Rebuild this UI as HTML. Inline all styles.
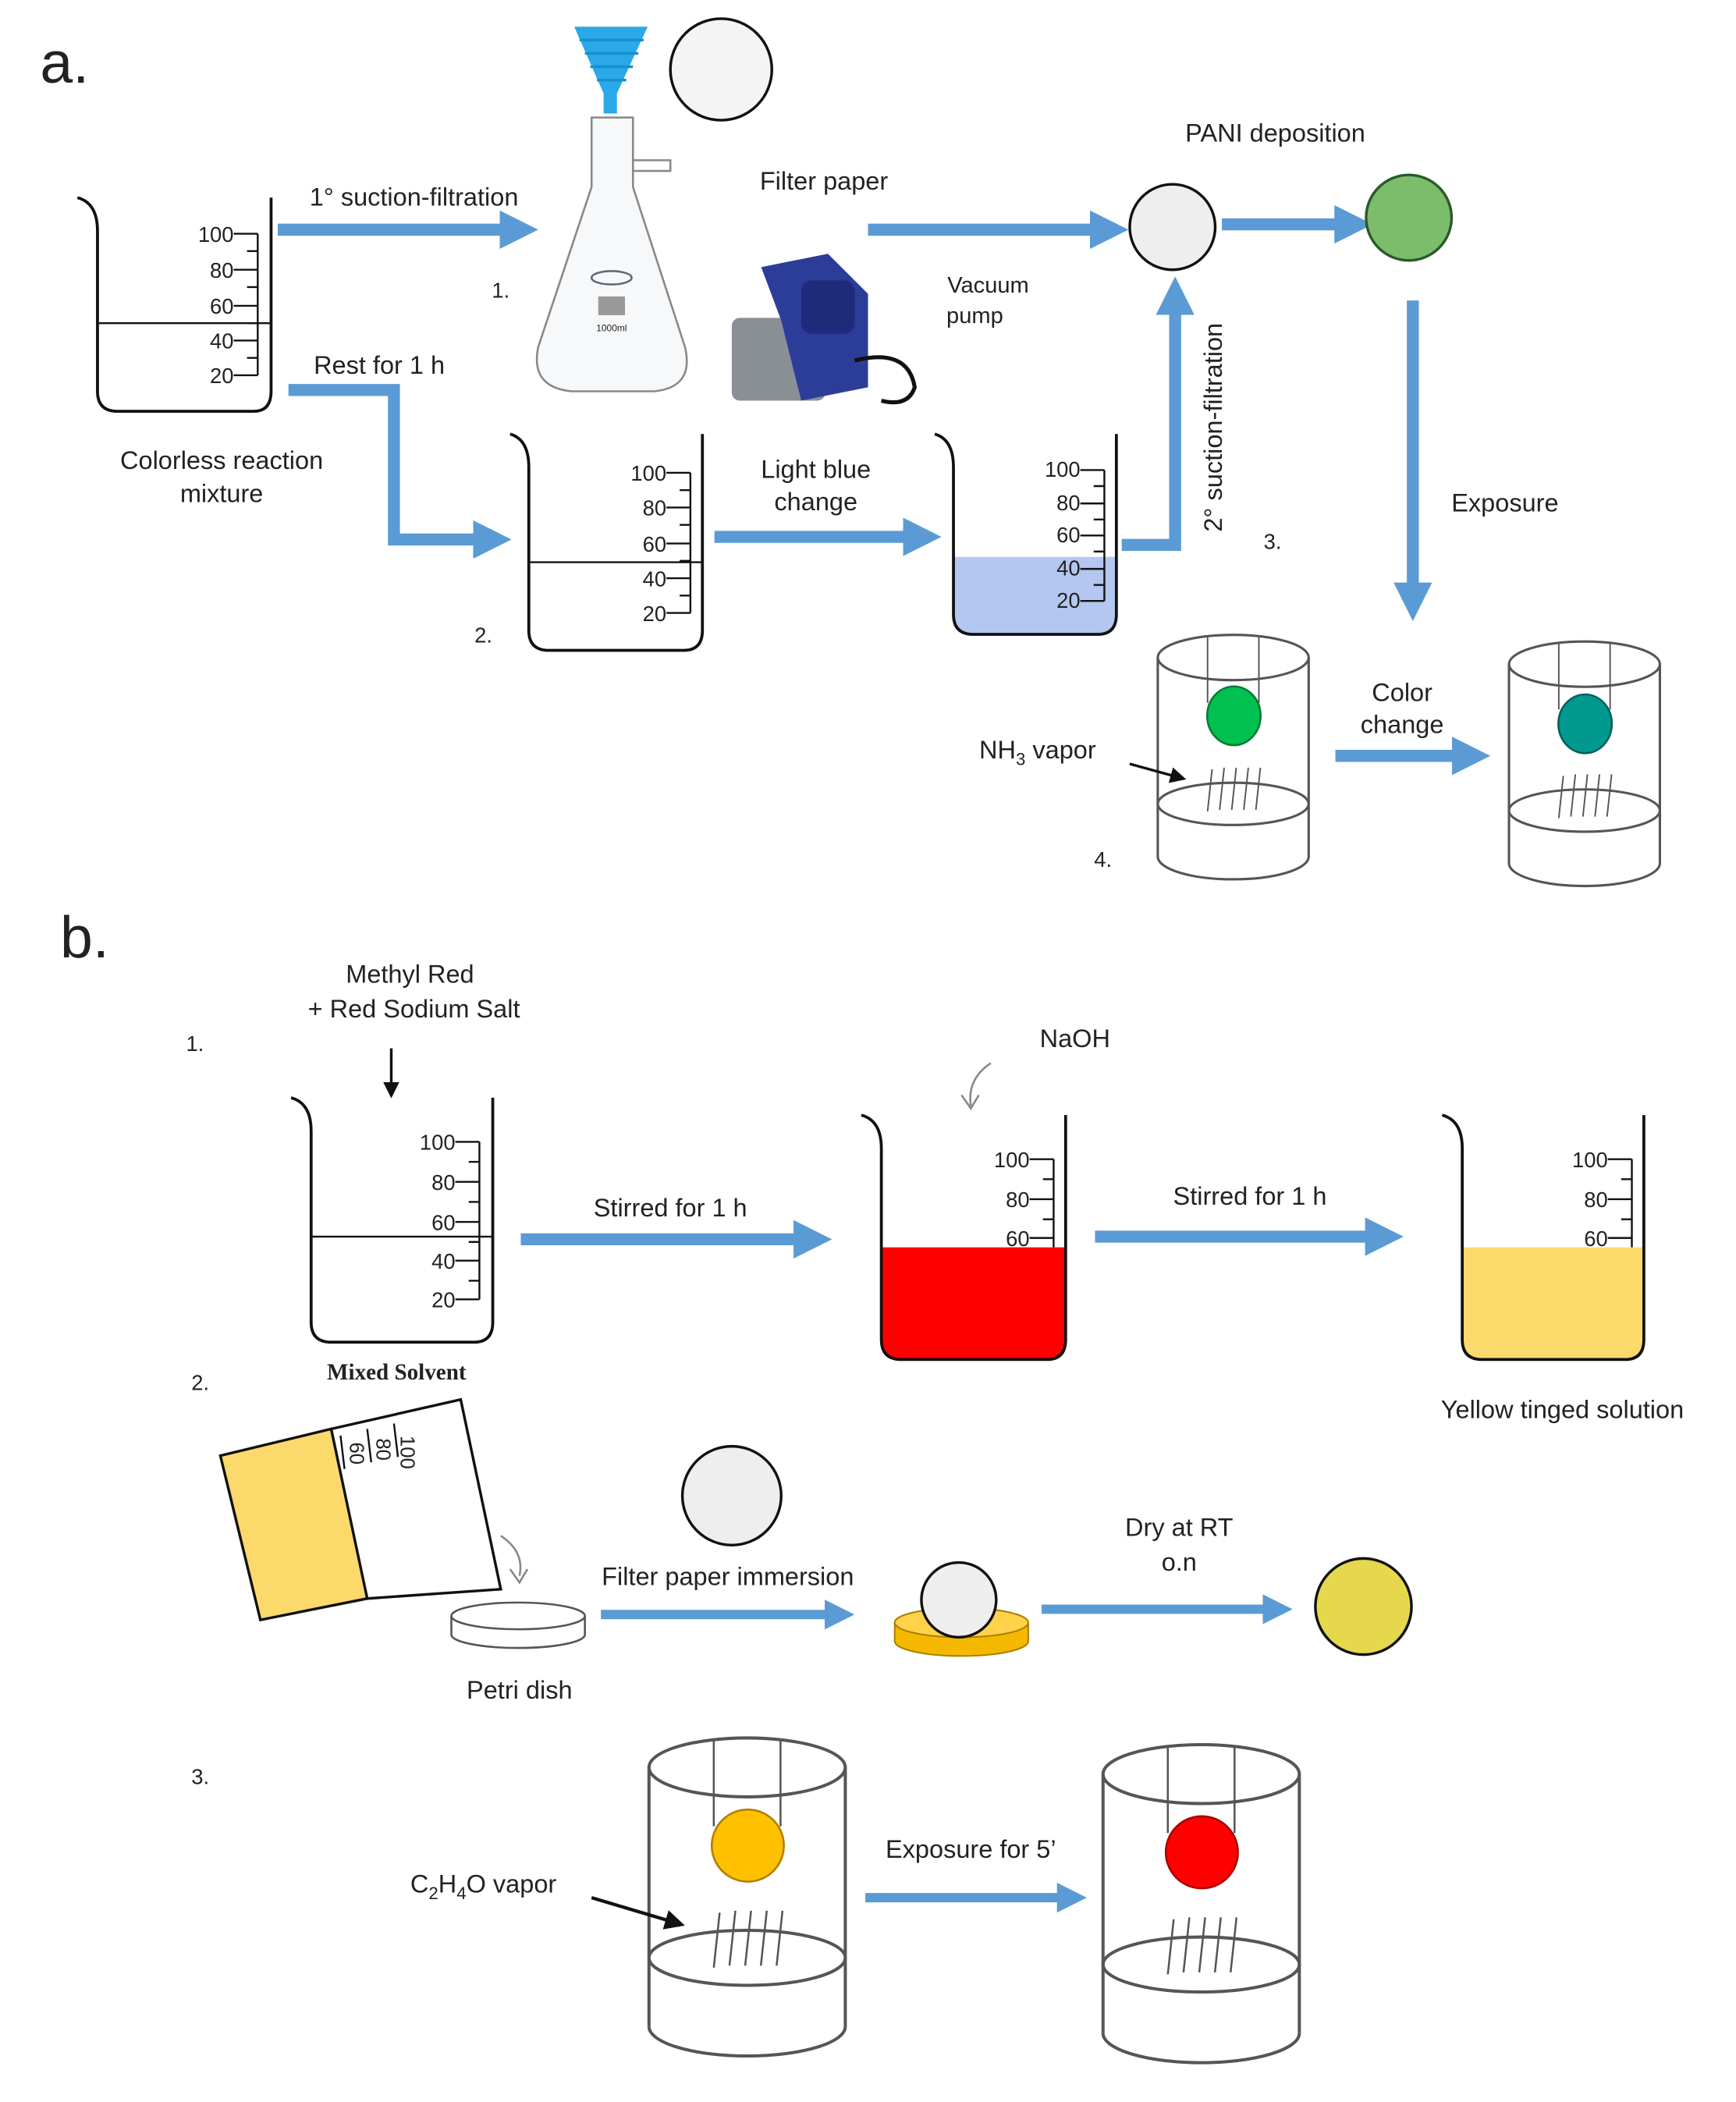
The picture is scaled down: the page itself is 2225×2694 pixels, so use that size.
<!DOCTYPE html>
<html><head><meta charset="utf-8"><style>html,body{margin:0;padding:0;background:#fff}svg{display:block}text{font-family:"Liberation Sans",sans-serif;fill:#222}</style></head><body>
<svg width="2225" height="2694" viewBox="0 0 1300 1574" preserveAspectRatio="none" xmlns="http://www.w3.org/2000/svg">
<defs>
<marker id="ah" viewBox="0 0 10 10" refX="2" refY="5" markerWidth="3.2" markerHeight="3.2" orient="auto" markerUnits="strokeWidth"><path d="M0,0 L10,5 L0,10 z" fill="#5b9bd5"/></marker>
<marker id="bk" viewBox="0 0 10 10" refX="8" refY="5" markerWidth="6" markerHeight="6" orient="auto" markerUnits="strokeWidth"><path d="M0,0 L10,5 L0,10 z" fill="#111"/></marker>
<g id="jar" fill="none" stroke="#555" stroke-width="1.6">
<rect x="0" y="18" width="100" height="132" fill="#fff" stroke="none"/>
<ellipse cx="50" cy="18" rx="50" ry="15"/>
<line x1="0" y1="18" x2="0" y2="150"/><line x1="100" y1="18" x2="100" y2="150"/>
<path d="M0,150 A50,15 0 0 0 100,150"/>
<ellipse cx="50" cy="115" rx="50" ry="14"/>
<line x1="33" y1="4" x2="33" y2="48" stroke-width="1"/><line x1="67" y1="4" x2="67" y2="48" stroke-width="1"/>
<path d="M36,92 l-3,28 M44,91 l-3,28 M52,91 l-3,28 M60,91 l-3,28 M68,91 l-3,28" stroke-width="1"/>
</g>
</defs>
<g stroke="#5b9bd5" stroke-width="9" fill="none">
<line x1="208" y1="172" x2="380" y2="172" marker-end="url(#ah)"/>
<line x1="650" y1="172" x2="822" y2="172" marker-end="url(#ah)"/>
<line x1="915" y1="168" x2="1005" y2="168" marker-end="url(#ah)"/>
<polyline points="216,292 295,292 295,404 360,404" marker-end="url(#ah)"/>
<line x1="535" y1="402" x2="682" y2="402" marker-end="url(#ah)"/>
<polyline points="840,408 880,408 880,230" marker-end="url(#ah)"/>
<line x1="1058" y1="225" x2="1058" y2="442" marker-end="url(#ah)"/>
<line x1="1000" y1="566" x2="1093" y2="566" marker-end="url(#ah)"/>
<line x1="390" y1="928" x2="600" y2="928" marker-end="url(#ah)"/>
<line x1="820" y1="926" x2="1028" y2="926" marker-end="url(#ah)"/>
<line x1="450" y1="1209" x2="622" y2="1209" stroke-width="7" marker-end="url(#ah)"/>
<line x1="780" y1="1205" x2="950" y2="1205" stroke-width="7" marker-end="url(#ah)"/>
<line x1="648" y1="1421" x2="796" y2="1421" stroke-width="7" marker-end="url(#ah)"/>
</g>
<text x="30" y="62" font-size="44">a.</text>
<text x="45" y="717" font-size="44">b.</text>
<!-- beakers -->
<g fill="none" stroke="#111" stroke-width="2.2">
<path d="M58,148 q15,4 15,25 L73,293 q0,15 15,15 L190,308 q13,0 13,-15 L203,148"/>
<line x1="73" y1="242" x2="203" y2="242" stroke-width="1.4"/>
<path d="M382,325 q14,4 14,25 L396,472 q0,15 15,15 L512,487 q14,0 14,-15 L526,325"/>
<line x1="396" y1="421" x2="526" y2="421" stroke-width="1.4"/>
<path d="M218,822 q15,4 15,25 L233,990 q0,15 15,15 L355,1005 q14,0 14,-15 L369,822"/>
<line x1="233" y1="926" x2="369" y2="926" stroke-width="1.4"/>
</g>
<path d="M714,417 L836,417 L836,460 q0,15 -14,15 L729,475 q-15,0 -15,-15 z" fill="#b4c7f0"/>
<path d="M700,325 q14,4 14,25 L714,460 q0,15 15,15 L822,475 q14,0 14,-15 L836,325" fill="none" stroke="#111" stroke-width="2.2"/>
<path d="M660,934 L798,934 L798,1003 q0,15 -14,15 L675,1018 q-15,0 -15,-15 z" fill="#ff0000"/>
<path d="M645,835 q15,4 15,25 L660,1003 q0,15 15,15 L784,1018 q14,0 14,-15 L798,835" fill="none" stroke="#111" stroke-width="2.2"/>
<path d="M1095,934 L1231,934 L1231,1003 q0,15 -14,15 L1110,1018 q-15,0 -15,-15 z" fill="#fcd96b"/>
<path d="M1080,835 q15,4 15,25 L1095,1003 q0,15 15,15 L1217,1018 q14,0 14,-15 L1231,835" fill="none" stroke="#111" stroke-width="2.2"/>
<!-- gradations -->
<g stroke="#111" stroke-width="1.4" fill="none">
<path d="M193,175 v106 M193,175 h-18 M193,202 h-18 M193,229 h-18 M193,255 h-18 M193,281 h-18 M193,188 h-8 M193,215 h-8 M193,242 h-8 M193,268 h-8"/>
<path d="M517,354 v105 M517,354 h-18 M517,380 h-18 M517,407 h-18 M517,433 h-18 M517,459 h-18 M517,367 h-8 M517,393 h-8 M517,420 h-8 M517,446 h-8"/>
<path d="M827,352 v98 M827,352 h-18 M827,377 h-18 M827,401 h-18 M827,426 h-18 M827,450 h-18 M827,364 h-8 M827,389 h-8 M827,413 h-8 M827,438 h-8"/>
<path d="M359,855 v118 M359,855 h-18 M359,885 h-18 M359,915 h-18 M359,944 h-18 M359,973 h-18 M359,870 h-8 M359,900 h-8 M359,930 h-8 M359,959 h-8"/>
<path d="M789,868 v66 M789,868 h-18 M789,898 h-18 M789,927 h-18 M789,883 h-8 M789,913 h-8"/>
<path d="M1222,868 v66 M1222,868 h-18 M1222,898 h-18 M1222,927 h-18 M1222,883 h-8 M1222,913 h-8"/>
</g>
<g font-size="16" text-anchor="end">
<text x="175" y="181">100</text><text x="175" y="208">80</text><text x="175" y="235">60</text><text x="175" y="261">40</text><text x="175" y="287">20</text>
<text x="499" y="360">100</text><text x="499" y="386">80</text><text x="499" y="413">60</text><text x="499" y="439">40</text><text x="499" y="465">20</text>
<text x="809" y="357">100</text><text x="809" y="382">80</text><text x="809" y="406">60</text><text x="809" y="431">40</text><text x="809" y="455">20</text>
<text x="341" y="861">100</text><text x="341" y="891">80</text><text x="341" y="921">60</text><text x="341" y="950">40</text><text x="341" y="979">20</text>
<text x="771" y="874">100</text><text x="771" y="904">80</text><text x="771" y="933">60</text>
<text x="1204" y="874">100</text><text x="1204" y="904">80</text><text x="1204" y="933">60</text>
</g>
<!-- funnel & flask -->
<path d="M430,20 L485,20 L462,70 L462,85 L452,85 L452,70 z" fill="#29a9e8"/>
<path d="M434,30 h48 M438,40 h40 M442,50 h32 M447,60 h22" stroke="#1a8fcc" stroke-width="2"/>
<circle cx="540" cy="52" r="38" fill="#f4f4f4" stroke="#111" stroke-width="2"/>
<path d="M443,88 L443,140 L403,260 q-6,30 25,33 L490,293 q30,-3 23,-33 L474,140 L474,88 z" fill="#f6f8fa" stroke="#888" stroke-width="1.5"/>
<path d="M474,120 h28 v8 h-28" fill="none" stroke="#888" stroke-width="1.5"/>
<ellipse cx="458" cy="208" rx="15" ry="5" fill="none" stroke="#667" stroke-width="1.5"/>
<rect x="448" y="222" width="20" height="14" fill="#999"/>
<text x="458" y="248" font-size="7" text-anchor="middle">1000ml</text>
<!-- pump -->
<rect x="548" y="238" width="70" height="62" rx="6" fill="#8a8f96"/>
<path d="M570,200 L620,190 L650,220 L650,290 L600,300 L585,240 z" fill="#2c3d99"/>
<rect x="600" y="210" width="40" height="40" rx="8" fill="#1e2a7a"/>
<path d="M640,270 q40,-10 45,20 q-5,15 -25,10" fill="none" stroke="#111" stroke-width="3"/>
<!-- circles -->
<circle cx="878" cy="170" r="32" fill="#eee" stroke="#111" stroke-width="2"/>
<circle cx="1055" cy="163" r="32" fill="#7cbd6c" stroke="#2a5a2a" stroke-width="2"/>
<!-- jars -->
<use href="#jar" transform="translate(867,472) scale(1.13)"/>
<use href="#jar" transform="translate(1130,477) scale(1.13)"/>
<ellipse cx="924" cy="536" rx="20" ry="22" fill="#00c050" stroke="#0a7a35" stroke-width="1.5"/>
<ellipse cx="1187" cy="542" rx="20" ry="22" fill="#00998f" stroke="#05605a" stroke-width="1.5"/>
<use href="#jar" transform="translate(486,1297) scale(1.47)"/>
<use href="#jar" transform="translate(826,1302) scale(1.47)"/>
<ellipse cx="560" cy="1382" rx="27" ry="27" fill="#ffc000" stroke="#b08000" stroke-width="1.5"/>
<ellipse cx="900" cy="1387" rx="27" ry="27" fill="#ff0000" stroke="#a00" stroke-width="1.5"/>
<line x1="846" y1="572" x2="886" y2="583" stroke="#111" stroke-width="2" marker-end="url(#bk)"/>
<line x1="443" y1="1421" x2="510" y2="1441" stroke="#111" stroke-width="2.5" marker-end="url(#bk)"/>
<line x1="293" y1="785" x2="293" y2="820" stroke="#111" stroke-width="2" marker-end="url(#bk)"/>
<path d="M742,796 q-18,12 -15,32" fill="none" stroke="#888" stroke-width="1.5"/>
<path d="M720,820 l7,10 l6,-10" fill="none" stroke="#888" stroke-width="1.5"/>
<!-- tilted beaker -->
<path d="M165,1090 L248,1070 L275,1197 L195,1213 z" fill="#fcd96b" stroke="#111" stroke-width="2"/>
<path d="M248,1070 L345,1048 L375,1190 L275,1197" fill="none" stroke="#111" stroke-width="2"/>
<path d="M255,1075 l3,25 M275,1070 l3,25 M295,1066 l3,25" stroke="#111" stroke-width="1.4"/>
<g font-size="15" transform="rotate(90)"><text x="1075" y="-300">100</text><text x="1077" y="-282">80</text><text x="1080" y="-262">60</text></g>
<path d="M375,1150 q18,12 14,30 M382,1175 l7,10 l6,-10" fill="none" stroke="#888" stroke-width="1.5"/>
<!-- petri dishes -->
<path d="M338,1210 v14 a50,10 0 0 0 100,0 v-14" fill="#fff" stroke="#555" stroke-width="1.5"/>
<ellipse cx="388" cy="1210" rx="50" ry="10" fill="#fff" stroke="#555" stroke-width="1.5"/>
<path d="M670,1215 v14 a50,11 0 0 0 100,0 v-14" fill="#f5b800" stroke="#aa8000" stroke-width="1.2"/>
<ellipse cx="720" cy="1215" rx="50" ry="11" fill="#ffd24a" stroke="#aa8000" stroke-width="1.2"/>
<circle cx="718" cy="1198" r="28" fill="#eee" stroke="#111" stroke-width="2"/>
<circle cx="548" cy="1120" r="37" fill="#eee" stroke="#111" stroke-width="2"/>
<circle cx="1021" cy="1203" r="36" fill="#e6d84d" stroke="#111" stroke-width="2"/>
<!-- labels -->
<g font-size="19" text-anchor="middle">
<text x="310" y="154">1° suction-filtration</text>
<text x="617" y="142">Filter paper</text>
<text x="955" y="106">PANI deposition</text>
<text x="740" y="219" font-size="17">Vacuum</text><text x="730" y="242" font-size="17">pump</text>
<text x="284" y="280">Rest for 1 h</text>
<text x="166" y="351">Colorless reaction</text><text x="166" y="376">mixture</text>
<text x="611" y="358">Light blue</text><text x="611" y="382">change</text>
<text x="1127" y="383">Exposure</text>
<text x="1050" y="525">Color</text><text x="1050" y="549">change</text>
<text x="777" y="568">NH<tspan font-size="13" dy="5">3</tspan><tspan dy="-5"> vapor</tspan></text>
<text x="307" y="736">Methyl Red</text><text x="310" y="762">+ Red Sodium Salt</text>
<text x="805" y="784">NaOH</text>
<text x="502" y="911">Stirred for 1 h</text>
<text x="936" y="902">Stirred for 1 h</text>
<text x="1170" y="1062">Yellow tinged solution</text>
<text x="545" y="1187">Filter paper immersion</text>
<text x="883" y="1150">Dry at RT</text><text x="883" y="1176">o.n</text>
<text x="389" y="1272">Petri dish</text>
<text x="727" y="1391">Exposure for 5’</text>
<text x="362" y="1417">C<tspan font-size="13" dy="5">2</tspan><tspan dy="-5">H</tspan><tspan font-size="13" dy="5">4</tspan><tspan dy="-5">O vapor</tspan></text>
</g>
<text x="297" y="1033" font-size="17" font-weight="bold" text-anchor="middle" style="font-family:'Liberation Serif',serif">Mixed Solvent</text>
<text x="915" y="320" font-size="19" text-anchor="middle" transform="rotate(-90 915 320)">2° suction-filtration</text>
<g font-size="16" text-anchor="middle">
<text x="375" y="223">1.</text><text x="362" y="481">2.</text><text x="953" y="411">3.</text><text x="826" y="649">4.</text>
<text x="146" y="787">1.</text><text x="150" y="1041">2.</text><text x="150" y="1336">3.</text>
</g>
</svg>
</body></html>
